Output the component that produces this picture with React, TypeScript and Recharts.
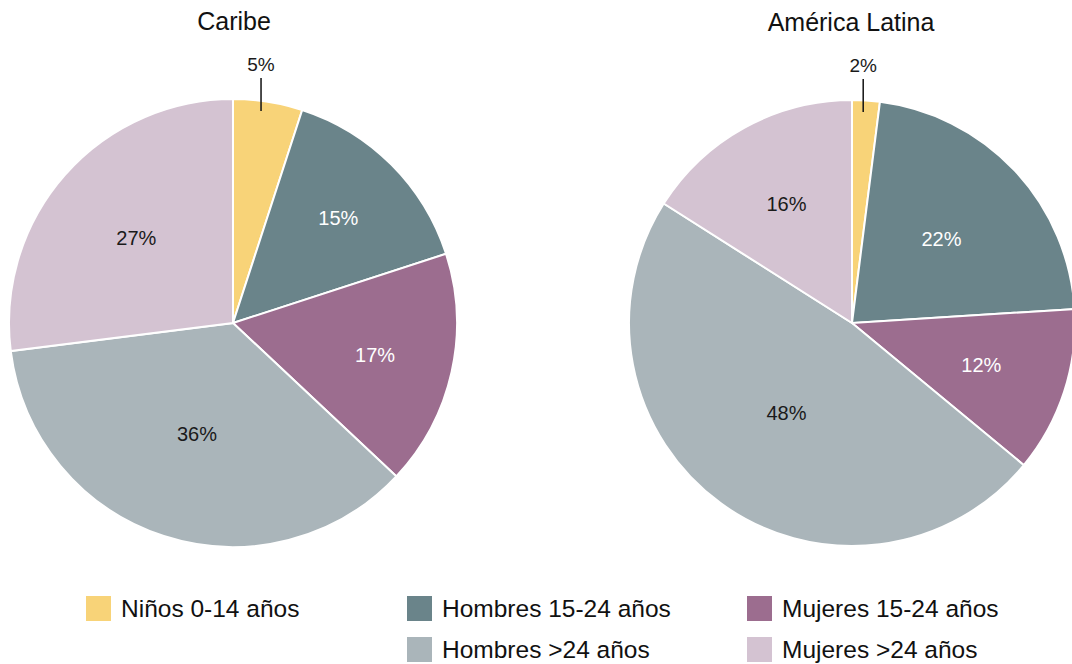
import React from 'react';
import { PieChart, Pie, Cell } from 'recharts';

const categories = ['Niños 0-14 años', 'Hombres 15-24 años', 'Mujeres 15-24 años', 'Hombres >24 años', 'Mujeres >24 años'];
const caribeValues = [5, 15, 17, 36, 27];
const latamValues = [2, 22, 12, 48, 16];
const titles = ['Caribe', 'América Latina'];

const colors = ['#F8D378', '#6A848A', '#9C6D8F', '#AAB5BA', '#D4C3D2'];
const labelColors = ['#1a1a1a', '#ffffff', '#ffffff', '#1a1a1a', '#1a1a1a'];
const caribeLabelR = [0, 0.665, 0.65, 0.52, 0.575];
const latamLabelR = [0, 0.55, 0.61, 0.5, 0.61];

const caribeData = categories.map((name, i) => ({ name, value: caribeValues[i] }));
const latamData = categories.map((name, i) => ({ name, value: latamValues[i] }));

const FONT = '"Liberation Sans", Arial, sans-serif';
const RAD = Math.PI / 180;

const makeLabel = (radii: number[]) => (props: any) => {
  const { cx, cy, midAngle, outerRadius, index, value } = props;
  if (index === 0) {
    const lx = cx + outerRadius * 0.8 * Math.cos(-midAngle * RAD);
    const topY = cy - outerRadius;
    return (
      <g key={`l-${index}`}>
        <line x1={lx} y1={topY - 21} x2={lx} y2={topY + 12} stroke="#111" strokeWidth={1.5} />
        <text x={lx} y={topY - 28} textAnchor="middle" fill="#1a1a1a" fontSize={19} fontFamily={FONT}>
          {`${value}%`}
        </text>
      </g>
    );
  }
  const r = outerRadius * radii[index];
  const x = cx + r * Math.cos(-midAngle * RAD);
  const y = cy + r * Math.sin(-midAngle * RAD);
  return (
    <text key={`l-${index}`} x={x} y={y} textAnchor="middle" dominantBaseline="central" fill={labelColors[index]} fontSize={20} fontFamily={FONT}>
      {`${value}%`}
    </text>
  );
};

const legendItems = [
  { i: 0, left: 86, row: 0 },
  { i: 1, left: 407, row: 0 },
  { i: 2, left: 747, row: 0 },
  { i: 3, left: 407, row: 1 },
  { i: 4, left: 747, row: 1 },
];
const legendRowTop = [596, 637];

export default function App() {
  return (
    <div style={{ position: 'absolute', left: 0, top: 0, width: 1072, height: 664, background: '#fff', overflow: 'hidden', fontFamily: FONT }}>
      <PieChart width={1072} height={664} margin={{ top: 0, right: 0, bottom: 0, left: 0 }} style={{ position: 'absolute', left: 0, top: 0 }}>
        <text x={234} y={30} textAnchor="middle" fontSize={25} fontFamily={FONT} fill="#111">{titles[0]}</text>
        <text x={851} y={31} textAnchor="middle" fontSize={25} fontFamily={FONT} fill="#111">{titles[1]}</text>
        <Pie
          data={caribeData}
          dataKey="value"
          nameKey="name"
          cx={233}
          cy={323}
          outerRadius={224}
          startAngle={90}
          endAngle={-270}
          stroke="#ffffff"
          strokeWidth={2}
          isAnimationActive={false}
          labelLine={false}
          label={makeLabel(caribeLabelR)}
        >
          {caribeData.map((d, i) => (
            <Cell key={d.name} fill={colors[i]} />
          ))}
        </Pie>
        <Pie
          data={latamData}
          dataKey="value"
          nameKey="name"
          cx={852}
          cy={323}
          outerRadius={223}
          startAngle={90}
          endAngle={-270}
          stroke="#ffffff"
          strokeWidth={2}
          isAnimationActive={false}
          labelLine={false}
          label={makeLabel(latamLabelR)}
        >
          {latamData.map((d, i) => (
            <Cell key={d.name} fill={colors[i]} />
          ))}
        </Pie>
        {legendItems.map(({ i, left, row }) => (
          <g key={categories[i]}>
            <rect x={left} y={legendRowTop[row]} width={25} height={25} fill={colors[i]} />
            <text x={left + 35} y={legendRowTop[row] + 21} fontSize={24.5} fontFamily={FONT} fill="#111">
              {categories[i]}
            </text>
          </g>
        ))}
      </PieChart>
    </div>
  );
}
